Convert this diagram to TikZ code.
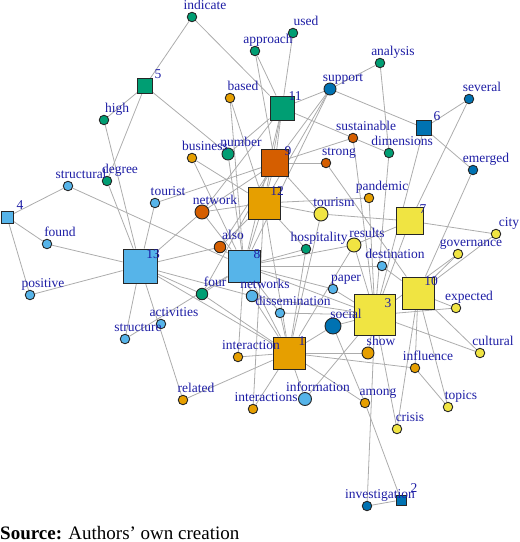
\documentclass[tikz,border=0pt]{standalone}
\usepackage{fontspec}
\setmainfont{Liberation Serif}
\usetikzlibrary{backgrounds}
\definecolor{cg}{HTML}{009E73}
\definecolor{co}{HTML}{E69F00}
\definecolor{cv}{HTML}{D55E00}
\definecolor{cl}{HTML}{56B4E9}
\definecolor{cb}{HTML}{0072B2}
\definecolor{cy}{HTML}{F0E442}
\definecolor{lab}{RGB}{30,30,165}
\definecolor{edgec}{RGB}{172,172,172}
\tikzset{
  wn/.style={circle,draw=black!85,line width=0.9pt,inner sep=0pt},
  tn/.style={rectangle,draw=black!85,line width=0.9pt,inner sep=0pt},
  lbl/.style={anchor=base,inner sep=0pt,text=lab,font=\fontsize{13.5}{14}\selectfont},
  ed/.style={draw=edgec,line width=0.8pt}
}
\newcommand\W[5]{\node[wn,fill=#4,minimum size=#5pt] (#1) at (#2,#3) {};}
\newcommand\T[5]{\node[tn,fill=#4,minimum size=#5pt] (#1) at (#2,#3) {};}
\begin{document}
\begin{tikzpicture}[x=1pt,y=-1pt]
\useasboundingbox (0,0) rectangle (520,542);
% topics
\T{t1}{289}{353}{co}{32}
\T{t2}{401}{500}{cb}{10}
\T{t3}{375}{315}{cy}{41}
\T{t4}{7}{217}{cl}{12}
\T{t5}{145}{86}{cg}{15}
\T{t6}{424}{128}{cb}{15}
\T{t7}{410}{221}{cy}{27}
\T{t8}{244}{266}{cl}{32}
\T{t9}{275}{163}{cv}{27}
\T{t10}{418}{293}{cy}{32}
\T{t11}{282}{108}{cg}{24}
\T{t12}{264}{203}{co}{32}
\T{t13}{140}{266}{cl}{34}
% words
\W{indicate}{192}{17}{cg}{9.5}
\W{approach}{255}{51}{cg}{9.5}
\W{used}{293}{33}{cg}{9.5}
\W{analysis}{380}{63}{cg}{9.5}
\W{support}{330}{89}{cb}{12}
\W{several}{469}{99}{cb}{9.5}
\W{emerged}{473}{170}{cb}{9.5}
\W{based}{230}{98}{co}{9.5}
\W{high}{104}{120}{cg}{9.5}
\W{business}{192}{158}{co}{9.5}
\W{number}{228}{154}{cg}{12}
\W{degree}{107}{181}{cg}{9.5}
\W{sustainable}{353}{138}{cv}{9.5}
\W{dimensions}{389}{153}{cg}{9.5}
\W{strong}{326}{163}{cv}{9.5}
\W{structural}{68}{186}{cl}{9.5}
\W{tourist}{155}{203}{cl}{9.5}
\W{network}{202}{212}{cv}{14}
\W{found}{47}{244}{cl}{9.5}
\W{also}{220}{247}{cv}{11.5}
\W{positive}{30}{295}{cl}{9.5}
\W{four}{202}{294}{cg}{11.5}
\W{activities}{161}{324}{cl}{9.5}
\W{structure}{125}{339}{cl}{9.5}
\W{networks}{252}{296}{cl}{11.5}
\W{pandemic}{369}{198}{co}{9.5}
\W{tourism}{321}{214}{cy}{14}
\W{city}{496}{234}{cy}{9.5}
\W{hospitality}{306}{249}{cg}{9.5}
\W{results}{354}{245}{cy}{14}
\W{governance}{458}{254}{cy}{9.5}
\W{destination}{382}{266}{cl}{9.5}
\W{paper}{333}{289}{cl}{9.5}
\W{expected}{456}{308}{cy}{9.5}
\W{dissemination}{280}{313}{cl}{9.5}
\W{social}{333}{326}{cb}{16}
\W{cultural}{480}{353}{cy}{9.5}
\W{interaction}{238}{357}{co}{9.5}
\W{related}{183}{400}{co}{9.5}
\W{interactions}{253}{409}{co}{9.5}
\W{information}{305}{399}{cl}{13}
\W{show}{368}{353}{co}{12}
\W{influence}{415}{368}{co}{9.5}
\W{among}{365}{403}{co}{9.5}
\W{topics}{448}{407}{cy}{9.5}
\W{crisis}{397}{429}{cy}{9.5}
\W{investigation}{367}{506}{cb}{9.5}
% edges
\begin{pgfonlayer}{background}
\foreach \a/\b in {indicate/t5, indicate/t11, approach/t11, approach/t9, used/t11,
  support/analysis, analysis/dimensions, support/t11, support/t6, support/t9, support/t12, support/t8,
  several/t6, several/t7, t6/emerged, t6/t3, emerged/t10,
  t5/high, t5/degree, t5/number, high/t13, degree/t13,
  structural/t4, structural/t8, t4/found, t4/positive, found/t13, positive/t13,
  tourist/t13, tourist/t9, based/t12, based/t8, business/t8, business/t12,
  number/t11, number/t8, t11/t12, t11/t9, t11/t8, t11/network, t11/dimensions,
  t9/strong, t9/sustainable, t9/tourism, t9/network, t9/t12, t9/also,
  strong/t10, sustainable/t3, dimensions/t3,
  tourism/t7, tourism/t12, tourism/t1, pandemic/t12, pandemic/t3,
  t7/city, t7/results, t7/t3, city/t10, governance/t10, governance/t3,
  hospitality/t8, hospitality/t1, hospitality/t12,
  results/t3, results/t8, results/t1, destination/t10, destination/t8,
  paper/t3, paper/t8, social/t3, social/t1, social/among,
  t12/network, t12/t8, t12/also, t12/t1, also/t8, also/t13, network/t13, network/t8,
  t13/four, t13/networks, t13/t1, t13/structure, t13/related,
  four/t8, four/t1, four/t9, structure/t8,
  networks/t8, networks/t1, networks/t3, dissemination/t1, dissemination/t8, dissemination/t3,
  t8/t1, t8/t3,
  t1/interaction, t1/interactions, t1/related, t1/show, t1/influence, t1/among, t1/information,
  interaction/t8, interactions/t12, information/t3, show/t3,
  among/t2, investigation/t2, investigation/t3, crisis/t3, crisis/t10,
  topics/t10, topics/influence, influence/t10, cultural/t3, cultural/t10,
  expected/t10, expected/t3}
  \draw[ed] (\a) -- (\b);
\end{pgfonlayer}
% labels
\foreach \n/\t in {t1/1,t2/2,t3/3,t4/4,t5/5,t6/6,t7/7,t8/8,t9/9,t10/10,t11/11,t12/12,t13/13,
  indicate/indicate,approach/approach,used/used,analysis/analysis,support/support,
  several/several,emerged/emerged,based/based,high/high,business/business,number/number,
  degree/degree,sustainable/sustainable,dimensions/dimensions,strong/strong,
  structural/structural,tourist/tourist,network/network,found/found,also/also,
  positive/positive,four/four,activities/activities,structure/structure,networks/networks,
  pandemic/pandemic,tourism/tourism,city/city,hospitality/hospitality,results/results,
  governance/governance,destination/destination,paper/paper,expected/expected,
  dissemination/dissemination,social/social,cultural/cultural,interaction/interaction,
  related/related,interactions/interactions,information/information,show/show,
  influence/influence,among/among,topics/topics,crisis/crisis,investigation/investigation}
  \node[lbl] (\n-l) at ([shift={(13pt,7.5pt)}]\n.center) {\t};
\node[anchor=base west,inner sep=0pt,font=\fontsize{19}{21}\selectfont] (src) at (0,539) {\textbf{Source:} Authors’ own creation};
\end{tikzpicture}
\end{document}
